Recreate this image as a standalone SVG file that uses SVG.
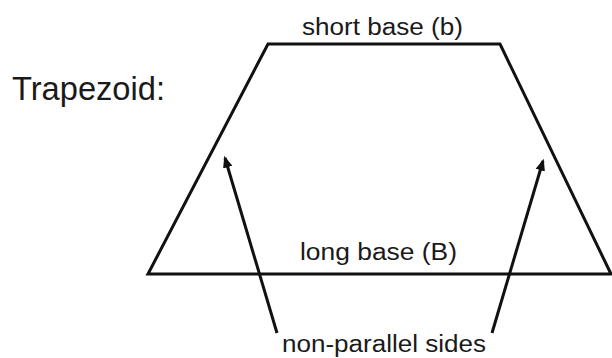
<svg xmlns="http://www.w3.org/2000/svg" width="612" height="358" viewBox="0 0 612 358">
<defs>
<style>
.t{font-family:"Liberation Sans",Arial,sans-serif;fill:#1a1a1a}
.s{fill:none;stroke:#111;stroke-width:3;stroke-linejoin:miter}
.a{fill:none;stroke:#111;stroke-width:3}
</style>
<marker id="ah" viewBox="0 0 10 10" refX="8" refY="5" markerWidth="4" markerHeight="4" orient="auto" markerUnits="strokeWidth">
<path d="M0,1 L10,5 L0,9 Z" fill="#111"/>
</marker>
</defs>
<rect width="612" height="358" fill="#fff"/>
<g id="title"><text class="t" x="12" y="100" font-size="33" textLength="153" lengthAdjust="spacingAndGlyphs">Trapezoid:</text></g>
<g id="trapezoid">
<path class="s" d="M148,274 L268,44 L500,44 L611,274 Z"/>
</g>
<g id="labels">
<text class="t" x="302" y="35" font-size="23" textLength="161" lengthAdjust="spacingAndGlyphs">short base (b)</text>
<text class="t" x="300" y="260" font-size="23" textLength="157" lengthAdjust="spacingAndGlyphs">long base (B)</text>
<text class="t" x="282" y="352" font-size="23" textLength="204" lengthAdjust="spacingAndGlyphs">non-parallel sides</text>
</g>
<g id="connectors">
<line class="a" x1="277" y1="333" x2="225" y2="158" marker-end="url(#ah)"/>
<line class="a" x1="492" y1="333" x2="543" y2="161" marker-end="url(#ah)"/>
</g>
</svg>
